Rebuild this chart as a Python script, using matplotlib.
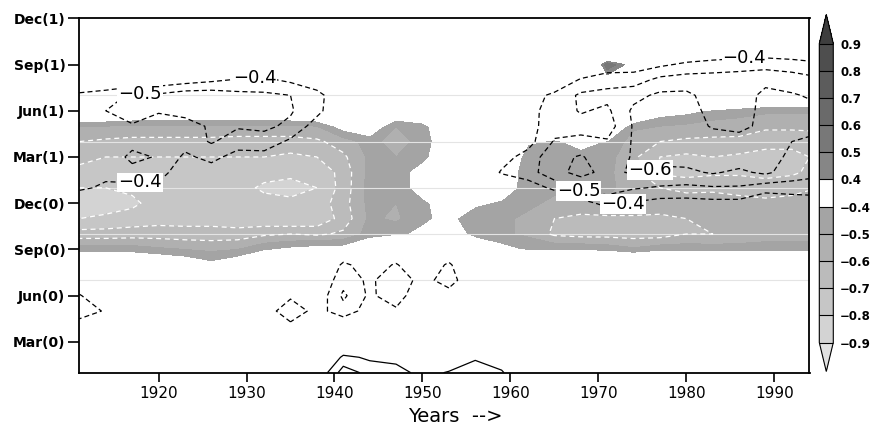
import numpy as np
import matplotlib
matplotlib.use("Agg")
import matplotlib.pyplot as plt
from matplotlib.colors import ListedColormap, BoundaryNorm

# Grid: one column every 3 years, one row per month from Jan(0)=1 to Dec(1)=24
years = [1911, 1914, 1917, 1920, 1923, 1926, 1929, 1932, 1935, 1938, 1941, 1944,
         1947, 1950, 1953, 1956, 1959, 1962, 1965, 1968, 1971, 1974, 1977, 1980,
         1983, 1986, 1989, 1992, 1995]
months = list(range(1, 25))

# Shaded correlation field; each line is one year, values from Dec(1) down to Jan(0)
shade_profiles = [
    [-0.05, -0.05, -0.05, -0.05, -0.05, -0.10, -0.20, -0.50, -0.60, -0.68, -0.72, -0.80, -0.86, -0.80, -0.66, -0.45, -0.20, -0.05, -0.05, -0.05, -0.05, -0.05, -0.05, -0.05],  # 1911
    [-0.05, -0.05, -0.05, -0.05, -0.05, -0.10, -0.20, -0.50, -0.62, -0.70, -0.72, -0.80, -0.85, -0.78, -0.66, -0.45, -0.20, -0.05, -0.05, -0.05, -0.05, -0.05, -0.05, -0.05],  # 1914
    [-0.05, -0.05, -0.05, -0.05, -0.05, -0.10, -0.22, -0.52, -0.63, -0.70, -0.72, -0.78, -0.82, -0.76, -0.65, -0.45, -0.22, -0.05, -0.05, -0.05, -0.05, -0.05, -0.05, -0.05],  # 1917
    [-0.05, -0.05, -0.05, -0.05, -0.05, -0.10, -0.22, -0.52, -0.63, -0.70, -0.72, -0.74, -0.76, -0.74, -0.65, -0.48, -0.25, -0.05, -0.05, -0.05, -0.05, -0.05, -0.05, -0.05],  # 1920
    [-0.05, -0.05, -0.05, -0.05, -0.05, -0.10, -0.22, -0.52, -0.63, -0.70, -0.72, -0.74, -0.75, -0.74, -0.66, -0.50, -0.30, -0.05, -0.05, -0.05, -0.05, -0.05, -0.05, -0.05],  # 1923
    [-0.05, -0.05, -0.05, -0.05, -0.05, -0.10, -0.22, -0.52, -0.63, -0.70, -0.72, -0.74, -0.75, -0.74, -0.66, -0.52, -0.37, -0.05, -0.05, -0.05, -0.05, -0.05, -0.05, -0.05],  # 1926
    [-0.05, -0.05, -0.05, -0.05, -0.05, -0.10, -0.22, -0.52, -0.64, -0.70, -0.73, -0.76, -0.76, -0.76, -0.66, -0.50, -0.30, -0.05, -0.05, -0.05, -0.05, -0.05, -0.05, -0.05],  # 1929
    [-0.05, -0.05, -0.05, -0.05, -0.05, -0.10, -0.22, -0.52, -0.64, -0.70, -0.76, -0.82, -0.76, -0.78, -0.62, -0.42, -0.20, -0.05, -0.05, -0.05, -0.05, -0.05, -0.05, -0.05],  # 1932
    [-0.05, -0.05, -0.05, -0.05, -0.05, -0.10, -0.22, -0.52, -0.64, -0.72, -0.78, -0.83, -0.78, -0.80, -0.60, -0.38, -0.15, -0.05, -0.05, -0.05, -0.05, -0.05, -0.05, -0.05],  # 1935
    [-0.05, -0.05, -0.05, -0.05, -0.05, -0.10, -0.20, -0.50, -0.62, -0.70, -0.78, -0.80, -0.76, -0.78, -0.62, -0.35, -0.12, -0.05, -0.05, -0.05, -0.05, -0.05, -0.05, -0.05],  # 1938
    [-0.05, -0.05, -0.05, -0.05, -0.05, -0.10, -0.15, -0.35, -0.55, -0.62, -0.66, -0.66, -0.64, -0.66, -0.58, -0.35, -0.10, -0.05, -0.05, -0.05, -0.05, -0.05, -0.05, -0.05],  # 1941
    [-0.05, -0.05, -0.05, -0.05, -0.05, -0.10, -0.15, -0.30, -0.46, -0.48, -0.47, -0.46, -0.47, -0.48, -0.46, -0.25, -0.10, -0.05, -0.05, -0.05, -0.05, -0.05, -0.05, -0.05],  # 1944
    [-0.05, -0.05, -0.05, -0.05, -0.05, -0.10, -0.25, -0.50, -0.55, -0.50, -0.46, -0.45, -0.50, -0.52, -0.42, -0.20, -0.10, -0.05, -0.05, -0.05, -0.05, -0.05, -0.05, -0.05],  # 1947
    [-0.05, -0.05, -0.05, -0.05, -0.05, -0.10, -0.20, -0.45, -0.46, -0.44, -0.35, -0.36, -0.42, -0.42, -0.38, -0.15, -0.05, -0.05, -0.05, -0.05, -0.05, -0.05, -0.05, -0.05],  # 1950
    [-0.05, -0.05, -0.05, -0.05, -0.05, -0.05, -0.05, -0.25, -0.30, -0.28, -0.25, -0.30, -0.35, -0.37, -0.30, -0.15, -0.05, -0.05, -0.05, -0.05, -0.05, -0.05, -0.05, -0.05],  # 1953
    [-0.05, -0.05, -0.05, -0.05, -0.05, -0.05, -0.05, -0.10, -0.15, -0.20, -0.25, -0.30, -0.38, -0.47, -0.45, -0.25, -0.05, -0.05, -0.05, -0.05, -0.05, -0.05, -0.05, -0.05],  # 1956
    [-0.05, -0.05, -0.05, -0.05, -0.05, -0.05, -0.05, -0.10, -0.15, -0.20, -0.25, -0.32, -0.42, -0.48, -0.48, -0.36, -0.10, -0.05, -0.05, -0.05, -0.05, -0.05, -0.05, -0.05],  # 1959
    [-0.05, -0.05, -0.05, -0.05, -0.05, -0.05, -0.10, -0.20, -0.38, -0.47, -0.50, -0.46, -0.48, -0.52, -0.52, -0.42, -0.10, -0.05, -0.05, -0.05, -0.05, -0.05, -0.05, -0.05],  # 1962
    [-0.05, -0.05, -0.05, -0.05, -0.05, -0.05, -0.10, -0.25, -0.42, -0.46, -0.48, -0.48, -0.52, -0.60, -0.62, -0.42, -0.10, -0.05, -0.05, -0.05, -0.05, -0.05, -0.05, -0.05],  # 1965
    [-0.05, -0.05, -0.05, -0.35, -0.05, -0.05, -0.10, -0.20, -0.36, -0.44, -0.47, -0.48, -0.55, -0.62, -0.64, -0.42, -0.10, -0.05, -0.05, -0.05, -0.05, -0.05, -0.05, -0.05],  # 1968
    [-0.05, -0.05, -0.35, 0.60, 0.30, -0.05, -0.10, -0.20, -0.41, -0.46, -0.48, -0.48, -0.52, -0.62, -0.64, -0.44, -0.12, -0.05, -0.05, -0.05, -0.05, -0.05, -0.05, -0.05],  # 1971
    [-0.05, -0.05, -0.05, 0.30, -0.05, -0.05, -0.15, -0.48, -0.55, -0.58, -0.56, -0.54, -0.52, -0.62, -0.65, -0.48, -0.15, -0.05, -0.05, -0.05, -0.05, -0.05, -0.05, -0.05],  # 1974
    [-0.05, -0.05, -0.05, -0.05, -0.05, -0.05, -0.34, -0.50, -0.60, -0.70, -0.72, -0.60, -0.55, -0.62, -0.65, -0.44, -0.12, -0.05, -0.05, -0.05, -0.05, -0.05, -0.05, -0.05],  # 1977
    [-0.05, -0.05, -0.05, -0.05, -0.05, -0.05, -0.37, -0.52, -0.62, -0.72, -0.74, -0.62, -0.56, -0.60, -0.60, -0.44, -0.12, -0.05, -0.05, -0.05, -0.05, -0.05, -0.05, -0.05],  # 1980
    [-0.05, -0.05, -0.05, -0.05, -0.05, -0.10, -0.42, -0.55, -0.62, -0.70, -0.72, -0.62, -0.55, -0.58, -0.60, -0.45, -0.12, -0.05, -0.05, -0.05, -0.05, -0.05, -0.05, -0.05],  # 1983
    [-0.05, -0.05, -0.05, -0.05, -0.05, -0.15, -0.45, -0.56, -0.62, -0.72, -0.72, -0.62, -0.58, -0.58, -0.58, -0.45, -0.12, -0.05, -0.05, -0.05, -0.05, -0.05, -0.05, -0.05],  # 1986
    [-0.05, -0.05, -0.05, -0.05, -0.05, -0.18, -0.48, -0.58, -0.66, -0.74, -0.74, -0.64, -0.58, -0.58, -0.56, -0.44, -0.12, -0.05, -0.05, -0.05, -0.05, -0.05, -0.05, -0.05],  # 1989
    [-0.05, -0.05, -0.05, -0.05, -0.05, -0.18, -0.48, -0.58, -0.66, -0.74, -0.72, -0.62, -0.58, -0.58, -0.56, -0.44, -0.12, -0.05, -0.05, -0.05, -0.05, -0.05, -0.05, -0.05],  # 1992
    [-0.05, -0.05, -0.05, -0.05, -0.05, -0.18, -0.48, -0.58, -0.64, -0.68, -0.66, -0.60, -0.56, -0.56, -0.55, -0.44, -0.12, -0.05, -0.05, -0.05, -0.05, -0.05, -0.05, -0.05],  # 1995
]

# Contoured correlation field; same layout as above
line_profiles = [
    [-0.05, -0.05, -0.10, -0.15, -0.30, -0.42, -0.46, -0.46, -0.45, -0.44, -0.44, -0.42, -0.30, -0.20, -0.15, -0.15, -0.20, -0.30, -0.41, -0.45, -0.35, -0.20, -0.10, -0.05],  # 1911
    [-0.05, -0.05, -0.10, -0.15, -0.32, -0.44, -0.50, -0.47, -0.46, -0.42, -0.43, -0.38, -0.28, -0.20, -0.15, -0.15, -0.20, -0.25, -0.30, -0.39, -0.30, -0.20, -0.10, -0.05],  # 1914
    [-0.05, -0.05, -0.10, -0.15, -0.30, -0.52, -0.55, -0.49, -0.46, -0.53, -0.46, -0.37, -0.28, -0.18, -0.15, -0.15, -0.15, -0.20, -0.25, -0.30, -0.25, -0.15, -0.10, -0.05],  # 1917
    [-0.05, -0.05, -0.10, -0.15, -0.32, -0.52, -0.51, -0.45, -0.46, -0.49, -0.45, -0.37, -0.28, -0.18, -0.15, -0.15, -0.15, -0.20, -0.22, -0.25, -0.22, -0.15, -0.10, -0.05],  # 1920
    [-0.05, -0.05, -0.10, -0.15, -0.35, -0.56, -0.55, -0.44, -0.44, -0.38, -0.32, -0.25, -0.20, -0.15, -0.12, -0.12, -0.15, -0.18, -0.20, -0.20, -0.18, -0.12, -0.08, -0.05],  # 1923
    [-0.05, -0.05, -0.10, -0.20, -0.38, -0.56, -0.56, -0.52, -0.51, -0.43, -0.35, -0.28, -0.20, -0.15, -0.12, -0.12, -0.15, -0.18, -0.20, -0.20, -0.18, -0.12, -0.08, -0.05],  # 1926
    [-0.05, -0.05, -0.12, -0.25, -0.41, -0.53, -0.56, -0.51, -0.45, -0.36, -0.32, -0.25, -0.20, -0.15, -0.12, -0.12, -0.15, -0.20, -0.22, -0.22, -0.20, -0.12, -0.08, -0.05],  # 1929
    [-0.05, -0.05, -0.12, -0.28, -0.42, -0.52, -0.56, -0.52, -0.46, -0.36, -0.32, -0.25, -0.20, -0.15, -0.12, -0.12, -0.15, -0.20, -0.25, -0.34, -0.25, -0.12, -0.08, -0.05],  # 1932
    [-0.05, -0.05, -0.12, -0.25, -0.38, -0.50, -0.51, -0.48, -0.38, -0.32, -0.28, -0.22, -0.18, -0.12, -0.12, -0.15, -0.20, -0.25, -0.38, -0.47, -0.37, -0.15, 0.00, 0.10],  # 1935
    [-0.05, -0.05, -0.10, -0.20, -0.32, -0.44, -0.43, -0.35, -0.30, -0.25, -0.22, -0.20, -0.15, -0.12, -0.12, -0.15, -0.25, -0.30, -0.32, -0.36, -0.25, 0.00, 0.15, 0.30],  # 1938
    [-0.05, -0.05, -0.10, -0.15, -0.22, -0.30, -0.30, -0.25, -0.20, -0.18, -0.15, -0.12, -0.12, -0.12, -0.15, -0.30, -0.42, -0.46, -0.52, -0.46, -0.30, 0.20, 0.43, 0.55],  # 1941
    [-0.05, -0.05, -0.10, -0.12, -0.15, -0.20, -0.20, -0.18, -0.15, -0.12, -0.12, -0.12, -0.12, -0.12, -0.15, -0.25, -0.35, -0.38, -0.38, -0.35, -0.20, 0.15, 0.38, 0.47],  # 1944
    [-0.05, -0.05, -0.10, -0.12, -0.15, -0.15, -0.15, -0.12, -0.12, -0.12, -0.12, -0.12, -0.12, -0.15, -0.20, -0.30, -0.41, -0.47, -0.46, -0.38, -0.20, 0.12, 0.36, 0.45],  # 1947
    [-0.05, -0.05, -0.10, -0.12, -0.15, -0.15, -0.15, -0.12, -0.12, -0.12, -0.12, -0.12, -0.12, -0.15, -0.20, -0.25, -0.30, -0.36, -0.30, -0.25, -0.15, 0.08, 0.26, 0.36],  # 1950
    [-0.05, -0.05, -0.10, -0.12, -0.15, -0.15, -0.15, -0.15, -0.15, -0.15, -0.20, -0.20, -0.18, -0.15, -0.20, -0.30, -0.42, -0.45, -0.35, -0.25, -0.15, 0.10, 0.30, 0.41],  # 1953
    [-0.05, -0.05, -0.10, -0.15, -0.20, -0.22, -0.25, -0.25, -0.28, -0.30, -0.30, -0.28, -0.22, -0.18, -0.15, -0.15, -0.25, -0.30, -0.25, -0.20, -0.10, 0.15, 0.38, 0.48],  # 1956
    [-0.05, -0.05, -0.10, -0.15, -0.22, -0.28, -0.30, -0.32, -0.34, -0.36, -0.41, -0.30, -0.22, -0.18, -0.15, -0.12, -0.12, -0.12, -0.12, -0.10, -0.05, 0.10, 0.30, 0.42],  # 1959
    [-0.05, -0.05, -0.10, -0.18, -0.25, -0.36, -0.37, -0.36, -0.36, -0.44, -0.45, -0.35, -0.25, -0.18, -0.12, -0.10, -0.10, -0.10, -0.10, -0.08, -0.05, 0.05, 0.15, 0.20],  # 1962
    [-0.05, -0.05, -0.10, -0.20, -0.32, -0.42, -0.44, -0.46, -0.51, -0.57, -0.58, -0.42, -0.30, -0.20, -0.12, -0.10, -0.08, -0.08, -0.08, -0.05, -0.05, 0.00, 0.05, 0.05],  # 1965
    [-0.05, -0.08, -0.15, -0.30, -0.41, -0.52, -0.51, -0.46, -0.53, -0.61, -0.62, -0.55, -0.35, -0.20, -0.12, -0.10, -0.08, -0.08, -0.08, -0.05, -0.05, -0.02, 0.00, 0.00],  # 1968
    [-0.05, -0.10, -0.20, -0.33, -0.46, -0.53, -0.48, -0.45, -0.51, -0.54, -0.58, -0.55, -0.44, -0.28, -0.12, -0.10, -0.08, -0.08, -0.08, -0.05, -0.05, -0.02, 0.00, 0.00],  # 1971
    [-0.05, -0.10, -0.20, -0.35, -0.45, -0.57, -0.62, -0.61, -0.61, -0.61, -0.61, -0.51, -0.39, -0.27, -0.12, -0.10, -0.08, -0.08, -0.08, -0.05, -0.05, -0.02, 0.00, 0.00],  # 1974
    [-0.05, -0.10, -0.25, -0.38, -0.53, -0.62, -0.64, -0.64, -0.64, -0.63, -0.58, -0.49, -0.36, -0.25, -0.12, -0.10, -0.08, -0.08, -0.08, -0.05, -0.05, -0.02, 0.00, 0.00],  # 1977
    [-0.05, -0.12, -0.28, -0.42, -0.55, -0.62, -0.64, -0.65, -0.65, -0.64, -0.58, -0.48, -0.36, -0.25, -0.12, -0.10, -0.08, -0.08, -0.08, -0.05, -0.05, -0.02, 0.00, 0.00],  # 1980
    [-0.05, -0.15, -0.30, -0.44, -0.55, -0.56, -0.57, -0.59, -0.65, -0.66, -0.61, -0.49, -0.37, -0.25, -0.12, -0.10, -0.08, -0.08, -0.08, -0.05, -0.05, -0.02, 0.00, 0.00],  # 1983
    [-0.05, -0.15, -0.32, -0.45, -0.56, -0.56, -0.57, -0.58, -0.63, -0.66, -0.58, -0.49, -0.37, -0.25, -0.12, -0.10, -0.08, -0.08, -0.08, -0.05, -0.05, -0.02, 0.00, 0.00],  # 1986
    [-0.05, -0.15, -0.32, -0.46, -0.58, -0.62, -0.62, -0.62, -0.63, -0.64, -0.62, -0.45, -0.30, -0.20, -0.12, -0.10, -0.08, -0.08, -0.08, -0.05, -0.05, -0.02, 0.00, 0.00],  # 1989
    [-0.05, -0.15, -0.30, -0.45, -0.55, -0.61, -0.61, -0.61, -0.60, -0.58, -0.55, -0.46, -0.32, -0.20, -0.12, -0.10, -0.08, -0.08, -0.08, -0.05, -0.05, -0.02, 0.00, 0.00],  # 1992
    [-0.05, -0.15, -0.30, -0.42, -0.52, -0.58, -0.62, -0.62, -0.58, -0.55, -0.52, -0.46, -0.34, -0.20, -0.12, -0.10, -0.08, -0.08, -0.08, -0.05, -0.05, -0.02, 0.00, 0.00],  # 1995
]

month_ticks = [3, 6, 9, 12, 15, 18, 21, 24]
month_labels = ["Mar(0)", "Jun(0)", "Sep(0)", "Dec(0)", "Mar(1)", "Jun(1)", "Sep(1)", "Dec(1)"]
year_ticks = [1920, 1930, 1940, 1950, 1960, 1970, 1980, 1990]
guide_months = [7, 10, 13, 16, 19]

shade_levels = [-0.9, -0.8, -0.7, -0.6, -0.5, -0.4, 0.4, 0.5, 0.6, 0.7, 0.8, 0.9]
shade_colors = ["#d3d3d3", "#c6c6c6", "#bbbbbb", "#b0b0b0", "#a4a4a4", "#ffffff",
                "#868686", "#787878", "#6a6a6a", "#5c5c5c", "#4e4e4e"]
under_color = "#e2e2e2"
over_color = "#3e3e3e"

neg_line_levels = [-0.6, -0.5, -0.4]
pos_line_levels = [0.4, 0.5]
label_spots = {
    -0.4: [(1930.9, 20.1), (1917.9, 13.2), (1986.6, 21.4), (1972.8, 12.0)],
    -0.5: [(1917.9, 18.7), (1967.9, 13.0)],
    -0.6: [(1975.8, 14.3)],
}

W, H = 877, 429
plt.rcParams["font.family"] = ["DejaVu Sans"]
fig = plt.figure(figsize=(W / 100, H / 100), dpi=100)

x0, x1, y0, y1 = 79.4, 809.5, 18.3, 372.7
ax = fig.add_axes([x0 / W, 1 - y1 / H, (x1 - x0) / W, (y1 - y0) / H])

shade = np.array(shade_profiles, dtype=float)[:, ::-1].T
lines = np.array(line_profiles, dtype=float)[:, ::-1].T

cmap = ListedColormap(shade_colors)
cmap.set_under(under_color)
cmap.set_over(over_color)
norm = BoundaryNorm(shade_levels, cmap.N)

cf = ax.contourf(years, months, shade, levels=shade_levels, cmap=cmap, norm=norm,
                 extend="both", zorder=1)

for m in guide_months:
    ax.axhline(m, color="#e4e4e4", lw=0.8, zorder=1.5)

ax.contour(years, months, shade, levels=[-0.8, -0.7, -0.6], colors="white",
           linewidths=0.9, linestyles=[(0, (4, 3))], zorder=2)


def fmt_label(v):
    return f"{v:.1f}".replace("-", "\u2212")


# one contour set per negative level so each label lands on its own line
for lev in neg_line_levels:
    cs = ax.contour(years, months, lines, levels=[lev], colors="black",
                    linewidths=0.9, linestyles=[(0, (4, 2.5))], zorder=3)
    texts = ax.clabel(cs, manual=label_spots[lev], inline=False,
                      fontsize=13, fmt=fmt_label, colors="black")
    for t in texts:
        t.set_rotation(0)
        t.set_zorder(5)
        t.set_bbox(dict(facecolor="white", edgecolor="none", pad=0.6))

ax.contour(years, months, lines, levels=pos_line_levels, colors="black",
           linewidths=0.9, linestyles="solid", zorder=3)

ax.set_xlim(1911, 1994)
ax.set_ylim(1, 24)
ax.set_xticks(year_ticks)
ax.set_xticklabels([str(y) for y in year_ticks], fontsize=11)
ax.set_yticks(month_ticks)
ax.set_yticklabels(month_labels, fontsize=10, fontweight="bold")
ax.tick_params(axis="y", direction="out", length=8, width=1.2, pad=2)
ax.tick_params(axis="x", direction="out", length=6.5, width=1.2, pad=3)
for sp in ax.spines.values():
    sp.set_linewidth(1.3)

fig.text(455 / W, 1 - 417 / H, "Years  -->", ha="center", va="center", fontsize=14)

# colour bar: interior 299 px tall, triangles of about one step at each end
cax = fig.add_axes([819.3 / W, 1 - 371.5 / H, 14 / W, 357 / H])
cb = fig.colorbar(cf, cax=cax, orientation="vertical", extend="both",
                  extendfrac=29 / 299, drawedges=True, spacing="uniform")
cb.set_ticks(shade_levels, labels=[fmt_label(v) for v in shade_levels])
cb.ax.tick_params(length=0, pad=5, labelsize=8.5)
for lab in cb.ax.get_yticklabels():
    lab.set_fontweight("bold")
cb.outline.set_linewidth(0.8)
cb.dividers.set_color("black")
cb.dividers.set_linewidth(0.8)

fig.savefig("out.png", dpi=100)
